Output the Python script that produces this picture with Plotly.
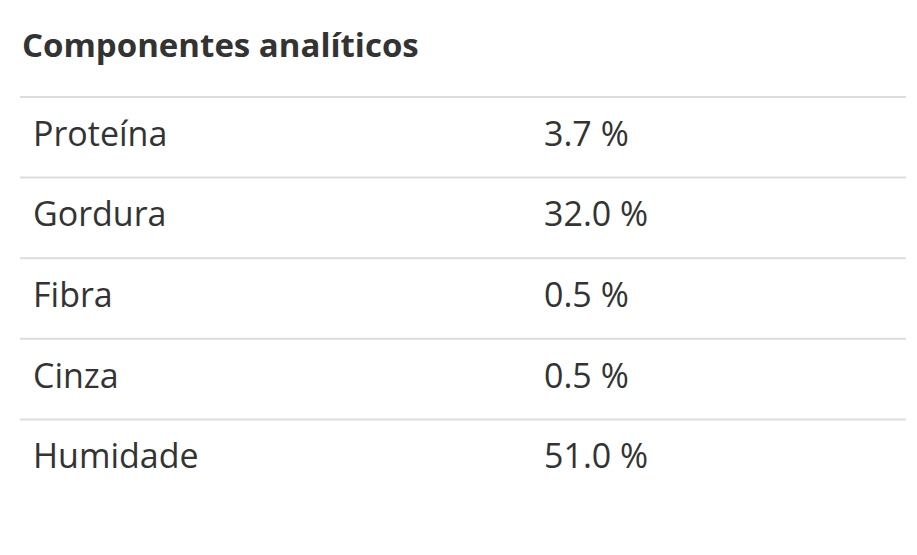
import plotly.graph_objects as go

title = "Componentes analíticos"
components = ["Proteína", "Gordura", "Fibra", "Cinza", "Humidade"]
values = [3.7, 32.0, 0.5, 0.5, 51.0]
value_labels = [f"{v:.1f} %" for v in values]

W, H = 917, 555
off = 8  # page body margin
top_line = 97 - off
row_h = 80.6
ys = [top_line + row_h * (i + 0.5) for i in range(len(components))]

fig = go.Figure()
fig.add_trace(go.Scatter(x=[33 - off] * len(components), y=ys, text=components, mode="text",
                         textposition="middle right",
                         textfont=dict(family="Open Sans", size=34, color="#333333"),
                         hoverinfo="skip"))
fig.add_trace(go.Scatter(x=[544 - off] * len(components), y=ys, text=value_labels, mode="text",
                         textposition="middle right",
                         textfont=dict(family="Open Sans", size=34, color="#333333"),
                         hoverinfo="skip"))

shapes = []
for i in range(len(components)):
    y = top_line + row_h * i
    shapes.append(dict(type="line", x0=20 - off, x1=906 - off, y0=y, y1=y, xref="x", yref="y",
                       line=dict(color="#dddddd", width=2)))

fig.update_layout(
    width=W, height=H, margin=dict(l=0, r=0, t=0, b=0),
    paper_bgcolor="white", plot_bgcolor="white", showlegend=False,
    xaxis=dict(range=[0, W], visible=False, fixedrange=True),
    yaxis=dict(range=[H, 0], visible=False, fixedrange=True),
    shapes=shapes,
    annotations=[dict(x=20 - off, y=44 - off, xref="x", yref="y", text=f"<b>{title}</b>", showarrow=False,
                      xanchor="left", yanchor="middle",
                      font=dict(family="Open Sans", size=33, color="#333333"))],
)
fig.write_html("out.html")
